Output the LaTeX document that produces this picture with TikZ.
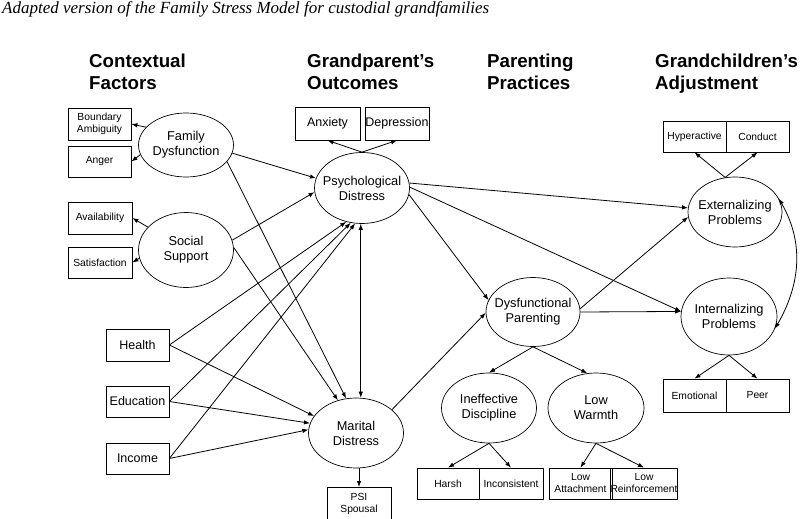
\documentclass[tikz,border=0pt]{standalone}
\usepackage{fontspec}
\setmainfont{Liberation Sans}
\newfontfamily\titlefont{Liberation Serif}
\usetikzlibrary{shapes.geometric,arrows.meta}
\tikzset{
  latent/.style={ellipse,draw,line width=0.7pt,inner xsep=-15pt,inner ysep=0pt,align=center,
    minimum width=95pt,minimum height=70pt,font=\fontsize{12.8}{15}\selectfont},
  indicator/.style={rectangle,draw,line width=0.7pt,inner sep=0pt,align=center,
    minimum width=63pt,minimum height=31pt,font=\fontsize{10.3}{12}\selectfont},
  observed/.style={indicator,font=\fontsize{12.5}{15}\selectfont},
  heading/.style={anchor=north west,align=left,inner sep=0pt,
    font=\fontsize{18.7}{22}\selectfont\bfseries},
  effect/.style={->,line width=0.8pt},
  >={Latex[length=6pt,width=4.5pt]}
}
\begin{document}
\begin{tikzpicture}[x=1pt,y=-1pt]
        \useasboundingbox (0,0) rectangle (800,519);
        % Title and column headings
        \node[anchor=base west,inner sep=0pt,font=\titlefont\itshape\fontsize{17}{20}\selectfont] (title) at (2,14)
          {Adapted version of the Family Stress Model for custodial grandfamilies};
        \node[heading] (hctx) at (89,54) {Contextual\\Factors};
        \node[heading] (hgp) at (307,54) {Grandparent's\\Outcomes};
        \node[heading] (hpar) at (487,54) {Parenting\\Practices};
        \node[heading] (hgc) at (655,54) {Grandchildren's\\Adjustment};
        % Contextual factors
        \node[latent,minimum height=64pt] (famdys) at (186,145) {Family\\Dysfunction};
        \node[latent,minimum height=75pt] (socsup) at (186,250) {Social\\Support};
        \node[indicator,minimum height=32pt] (bnd) at (99.5,124) {Boundary\\Ambiguity};
        \node[indicator] (anger) at (99.5,161.5) {Anger};
        \node[indicator,minimum width=64pt,minimum height=32pt] (avail) at (100,218) {Availability};
        \node[indicator,minimum width=64pt] (satis) at (100,262.5) {Satisfaction};
        \node[observed,minimum height=32pt] (health) at (137.5,345) {Health};
        \node[observed] (edu) at (137.5,401.5) {Education};
        \node[observed] (income) at (137.5,458.5) {Income};
        % Grandparent's outcomes
        \node[latent,minimum height=71pt] (psych) at (362,188) {Psychological\\Distress};
        \node[latent] (marital) at (356,433) {Marital\\Distress};
        \node[observed,minimum width=65pt,minimum height=33pt] (anx) at (327.5,123.5) {Anxiety};
        \node[observed,minimum width=64pt,minimum height=33pt] (dep) at (397,123.5) {Depression};
        \node[indicator,anchor=north,minimum width=64pt,minimum height=34pt] (psi) at (359,487) {PSI\\Spousal};
        % Parenting practices
        \node[latent,minimum width=94pt,minimum height=69pt] (dyspar) at (533,312) {Dysfunctional\\Parenting};
        \node[latent] (ineff) at (489,408) {Ineffective\\Discipline};
        \node[latent,minimum width=96pt] (warmth) at (596,408) {Low\\Warmth};
        \node[indicator,minimum width=62pt] (harsh) at (448,483.5) {Harsh};
        \node[indicator,minimum width=64pt] (incons) at (511,483.5) {Inconsistent};
        \node[indicator] (lowatt) at (580.5,483.5) {Low\\Attachment};
        \node[indicator,minimum width=64pt] (lowrein) at (644,483.5) {Low\\Reinforcement};
        % Grandchildren's adjustment
        \node[latent,minimum width=94pt] (ext) at (735,212) {Externalizing\\Problems};
        \node[latent,minimum width=96pt,minimum height=77pt] (int) at (729,316.5) {Internalizing\\Problems};
        \node[indicator] (hyper) at (694.5,136.5) {Hyperactive};
        \node[indicator] (conduct) at (757.5,136.5) {Conduct};
        \node[indicator,minimum height=33pt] (emo) at (694.5,395.5) {Emotional};
        \node[indicator,minimum height=33pt] (peer) at (757.5,395.5) {Peer};
        % Measurement arrows
        \draw[effect] (famdys.156) -- (bnd.east);
        \draw[effect] (famdys.192) -- (anger.east);
        \draw[effect] (socsup.149) -- (avail.east);
        \draw[effect] (socsup.190) -- (satis.east);
        \draw[effect] (psych.north) -- (anx.south);
        \draw[effect] (psych.north) -- (dep.south);
        \draw[effect] (marital.south -| psi.north) -- (psi.north);
        \draw[effect] (dyspar.south) -- (ineff.north);
        \draw[effect] (dyspar.south) -- (warmth.104);
        \draw[effect] (ineff.south) -- (harsh.north);
        \draw[effect] (ineff.south) -- (incons.north);
        \draw[effect] (warmth.south) -- (lowatt.north);
        \draw[effect] (warmth.south) -- (lowrein.north);
        \draw[effect] (ext.106) -- (hyper.south);
        \draw[effect] (ext.106) -- (conduct.south);
        \draw[effect] (int.south) -- (emo.north);
        \draw[effect] (int.south) -- (peer.north);
        % Paths into the grandparent's outcomes
        \draw[effect] (famdys.350) -- (psych.168);
        \draw[effect] (famdys.338) -- (marital.106);
        \draw[effect] (socsup.12) -- (psych.185);
        \draw[effect] (socsup.3) -- (marital.119);
        \foreach \src/\a/\b in {health/245/158, edu/252/168, income/259/176} {
          \draw[effect] (\src.east) -- (psych.\a);
          \draw[effect] (\src.east) -- (marital.\b);
        }
        \draw[<->,line width=0.8pt] (psych.268) -- (psych.268 |- marital.north);
        % Paths to parenting and adjustment
        \draw[effect] (psych.352) -- (dyspar.165);
        \draw[effect] (marital.33) -- (dyspar.181);
        \draw[effect] (psych.6) -- (ext.175);
        \draw[effect] (psych.1) -- (int.174);
        \draw[effect] (dyspar.4) -- (ext.186);
        \draw[effect] (dyspar.east) -- (int.174);
        \draw[<->,line width=0.8pt] (ext.17) to[out=-60,in=60] (int.345);
      \end{tikzpicture}
\end{document}
